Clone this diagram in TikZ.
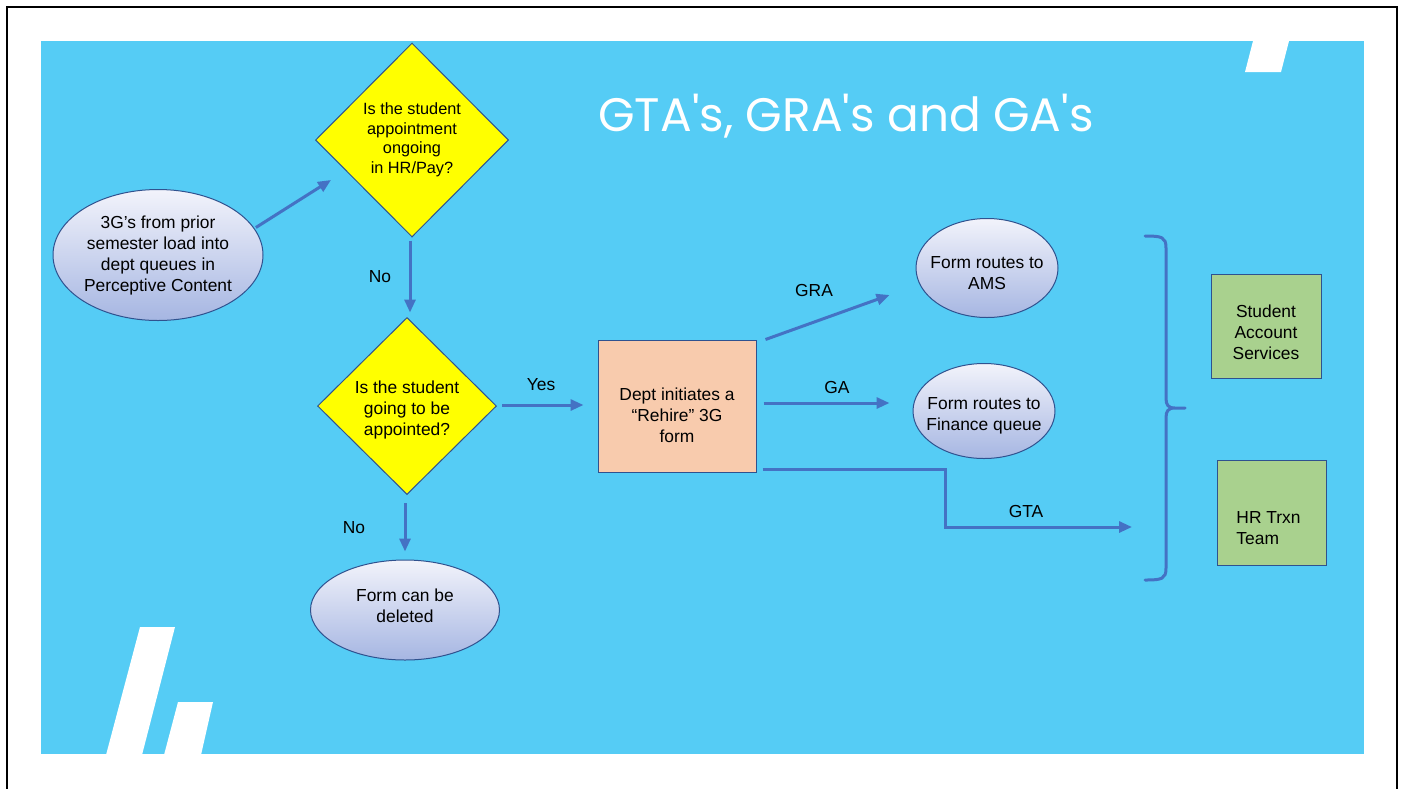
\documentclass[tikz,border=0pt]{standalone}
\usepackage{fontspec}
\setmainfont{Liberation Sans}
\newfontfamily\titlefont{Poppins}
\usetikzlibrary{shapes.geometric,arrows.meta,calc}
\definecolor{bgblue}{HTML}{55CCF5}
\definecolor{arrblue}{HTML}{4472C4}
\definecolor{edge}{HTML}{2F528F}
\definecolor{diamy}{HTML}{FFFF00}
\definecolor{peach}{HTML}{F8CBAD}
\definecolor{greenbox}{HTML}{A9D18E}
\definecolor{elltop}{HTML}{F2F3FB}
\definecolor{ellbot}{HTML}{A6B6E2}
\tikzset{
  txt/.style={font=\fontsize{17.4}{21}\selectfont, align=center, text=black},
  ell/.style={ellipse, draw=edge, line width=1pt, top color=elltop, bottom color=ellbot, inner sep=0pt, txt},
  dia/.style={diamond, draw=edge, line width=1pt, fill=diamy, inner sep=0pt, txt},
  box/.style={rectangle, draw=edge, line width=1pt, inner sep=0pt, txt},
  arr/.style={draw=arrblue, line width=3pt, -{Triangle[length=13pt,width=11pt]}},
  lbl/.style={font=\fontsize{17.4}{21}\selectfont, text=black},
}
\begin{document}
\begin{tikzpicture}[x=1pt,y=-1pt]
\clip (0,0) rectangle (1405,788);
\fill[white] (0,0) rectangle (1405,788);
\draw[line width=2.6pt] (7,7) rectangle (1397,820);
\fill[bgblue] (41,41) rectangle (1364,754);
% decorations
\fill[white] (1253,41) -- (1289,41) -- (1281,72) -- (1245,72) -- cycle;
\fill[white] (140,627) -- (175,627) -- (142,755) -- (106,755) -- cycle;
\fill[white] (178,702) -- (213,702) -- (201,755) -- (164,755) -- cycle;
% title
\node[text=white, font=\titlefont\fontsize{47}{52}\selectfont] (title) at (846,116) {GTA's, GRA's and GA's};
% nodes
\node[ell, minimum width=210pt, minimum height=131pt] (e1) at (158,255) {3G’s from prior\\semester load into\\dept queues in\\Perceptive Content};
\node[dia, minimum width=193pt, minimum height=194pt, font=\fontsize{16.3}{19.5}\selectfont] (d1) at (412,140) {Is the student\\appointment\\ongoing\\in HR/Pay?};
\node[dia, minimum width=179pt, minimum height=177pt] (d2) at (407,406) {};
\node[txt] (d2text) at ($(d2.center)+(0,4)$) {Is the student\\going to be\\appointed?};
\node[ell, minimum width=189pt, minimum height=100pt] (e2) at (405,610) {};
\node[txt] (e2text) at ($(e2.center)+(0,-4)$) {Form can be\\deleted};
\node[box, fill=peach, minimum width=158pt, minimum height=132pt] (rect) at (677,406) {};
\node[txt] (recttext) at ($(rect.center)+(0,9)$) {Dept initiates a\\“Rehire” 3G\\form};
\node[ell, inner xsep=-14pt, minimum width=142pt, minimum height=99pt] (e3) at (987,268) {};
\node[txt] (e3text) at ($(e3.center)+(0,5)$) {Form routes to\\AMS};
\node[ell, inner xsep=-14pt, minimum width=142pt, minimum height=95pt] (e4) at (984,411) {};
\node[txt] (e4text) at ($(e4.center)+(0,5)$) {Form routes to\\Finance queue};
\node[box, draw=edge, fill=greenbox, minimum width=110pt, minimum height=104pt] (g1) at (1266,326) {};
\node[txt] (g1text) at ($(g1.center)+(0,6)$) {Student\\Account\\Services};
\node[box, draw=edge, fill=greenbox, minimum width=109pt, minimum height=105pt] (g2) at (1271.5,512.5) {};
\node[txt, align=left] (g2text) at ($(g2.center)+(-3,16)$) {HR Trxn\\Team};
% brace
\draw[arrblue, line width=3pt, line cap=round]
  (1145,236) .. controls (1162,236) and (1166,237) .. (1166,248)
  -- (1166,398) .. controls (1166,405) and (1168,408) .. (1175,408) -- (1185,408)
  (1175,408) .. controls (1168,408) and (1166,411) .. (1166,418)
  -- (1166,568) .. controls (1166,579) and (1162,580) .. (1145,580);
\coordinate (gtaend) at (1132,527);
% connectors
\draw[arr] ($(e1.16)+(2,0)$) -- ($(d1.west)+(16,40)$);
\draw[arr] ($(d1.south)+(-2,3)$) -- ($(d1.south)+(-2,75)$);
\draw[arr] ($(d2.east)+(5,-1)$) -- ($(rect.west)+(-14,-1)$);
\draw[arr] ($(d2.south)+(-2,8)$) -- ($(e2.north)+(0,-8)$);
\draw[arr] ($(rect.north east)+(9,0)$) -- ($(e3.west)+(-26,27)$);
\draw[arr] ($(rect.east)+(7,-3)$) -- ($(e4.west)+(-23,-8)$);
\draw[arr] ($(rect.south east)+(6,-3)$) -- ++(183,0) |- (gtaend);
% labels
\node[lbl] (lno1) at (380,277) {No};
\node[lbl] (lyes) at (541,385) {Yes};
\node[lbl] (lno2) at (354,528) {No};
\node[lbl] (lgra) at (814,291) {GRA};
\node[lbl] (lga) at (837,388) {GA};
\node[lbl] (lgta) at (1026,511) {GTA};
\end{tikzpicture}
\end{document}
